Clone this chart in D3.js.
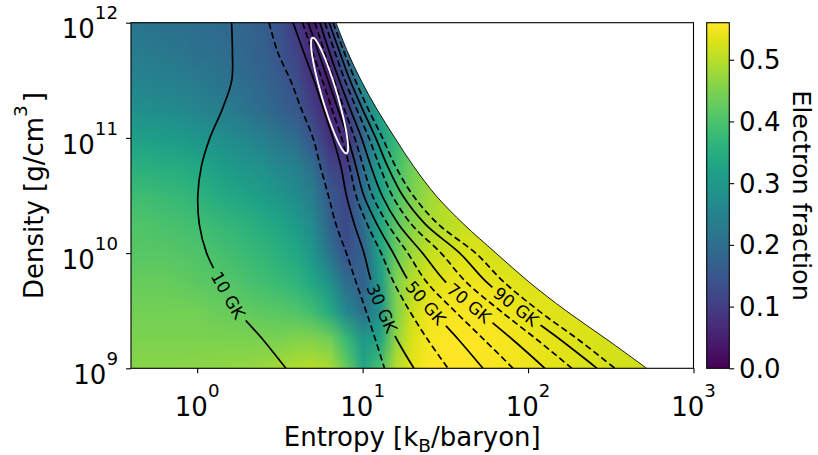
<!DOCTYPE html>
<html>
<head>
<meta charset="utf-8">
<script src="https://cdn.jsdelivr.net/npm/d3@7"></script>
<style>
  html, body { margin: 0; padding: 0; background: #fff; }
  svg { display: block; font-family: "DejaVu Sans", sans-serif; }
</style>
</head>
<body>
<svg id="chart" width="818" height="455"></svg>
<script>
// ---------------- data ----------------
// grid of the electron-fraction field: log10 entropy (columns) x log10 density (rows)
const logEntropyCols = [-0.4, -0.3, -0.2, -0.1, 0.0, 0.1, 0.2, 0.3, 0.4, 0.5, 0.6, 0.7, 0.8, 0.9, 1.0,
  1.1, 1.2, 1.3, 1.4, 1.5, 1.6, 1.7, 1.8, 1.9, 2.0, 2.1, 2.2, 2.3, 2.4, 2.5, 2.6, 2.7, 2.8];
const logDensityRows = [12, 11.75, 11.5, 11.25, 11, 10.75, 10.5, 10.25, 10, 9.75, 9.5, 9.25, 9];

// electron fraction Ye on the grid (one row per density, starting at 1e12)
const yeRows = [
  [0.22, 0.215, 0.21, 0.205, 0.2, 0.195, 0.19, 0.18, 0.165, 0.14, 0.09, 0.045, 0.13, 0.25],
  [0.235, 0.23, 0.225, 0.22, 0.21, 0.205, 0.195, 0.185, 0.17, 0.15, 0.11, 0.06, 0.07, 0.2, 0.3],
  [0.255, 0.25, 0.245, 0.24, 0.23, 0.22, 0.21, 0.195, 0.18, 0.16, 0.13, 0.075, 0.045, 0.13, 0.29, 0.35],
  [0.28, 0.275, 0.27, 0.265, 0.255, 0.245, 0.23, 0.215, 0.195, 0.175, 0.155, 0.105, 0.05, 0.09, 0.22, 0.33, 0.38],
  [0.315, 0.315, 0.31, 0.305, 0.295, 0.285, 0.27, 0.26, 0.24, 0.22, 0.195, 0.145, 0.075, 0.07, 0.18, 0.3, 0.38, 0.42],
  [0.355, 0.355, 0.35, 0.345, 0.335, 0.32, 0.305, 0.295, 0.28, 0.26, 0.245, 0.2, 0.12, 0.1, 0.2, 0.31, 0.39, 0.44, 0.47],
  [0.385, 0.385, 0.38, 0.375, 0.365, 0.35, 0.335, 0.325, 0.31, 0.295, 0.27, 0.235, 0.155, 0.12, 0.2, 0.31, 0.4, 0.45, 0.48, 0.5],
  [0.405, 0.405, 0.4, 0.395, 0.39, 0.38, 0.37, 0.36, 0.345, 0.33, 0.305, 0.265, 0.175, 0.12, 0.2, 0.33, 0.42, 0.46, 0.49, 0.5, 0.51, 0.52],
  [0.415, 0.415, 0.415, 0.41, 0.405, 0.4, 0.39, 0.38, 0.37, 0.355, 0.335, 0.295, 0.215, 0.14, 0.17, 0.32, 0.43, 0.48, 0.51, 0.52, 0.53, 0.53, 0.52, 0.52],
  [0.43, 0.43, 0.43, 0.425, 0.42, 0.415, 0.41, 0.4, 0.39, 0.38, 0.365, 0.335, 0.28, 0.2, 0.17, 0.3, 0.45, 0.5, 0.53, 0.54, 0.545, 0.545, 0.54, 0.535, 0.53, 0.53],
  [0.44, 0.44, 0.44, 0.44, 0.44, 0.435, 0.43, 0.425, 0.42, 0.415, 0.405, 0.385, 0.34, 0.26, 0.2, 0.28, 0.45, 0.52, 0.545, 0.55, 0.555, 0.555, 0.55, 0.545, 0.54, 0.535, 0.53, 0.53],
  [0.45, 0.45, 0.45, 0.45, 0.45, 0.45, 0.45, 0.45, 0.45, 0.45, 0.455, 0.455, 0.44, 0.38, 0.3, 0.33, 0.47, 0.53, 0.555, 0.56, 0.56, 0.56, 0.555, 0.55, 0.545, 0.54, 0.535, 0.53, 0.525, 0.52, 0.52],
  [0.46, 0.46, 0.46, 0.46, 0.465, 0.465, 0.47, 0.47, 0.475, 0.485, 0.495, 0.5, 0.49, 0.43, 0.33, 0.4, 0.5, 0.54, 0.56, 0.56, 0.56, 0.56, 0.555, 0.55, 0.545, 0.54, 0.535, 0.53, 0.53, 0.525, 0.52, 0.52, 0.52]
];

// upper edge of the tabulated region: log10 entropy at each density row
const boundaryLogS = [0.839, 0.908, 0.990, 1.086, 1.195, 1.310, 1.443, 1.612, 1.806, 2.005, 2.229, 2.477, 2.717];

// isotherms (GK): log10 entropy at each density row
const T10 = [0.208, 0.213, 0.209, 0.152, 0.077, 0.025, 0.004, 0.013, 0.057, 0.143, 0.246, 0.397, 0.536];
const T20 = [0.435, 0.485, 0.564, 0.630, 0.700, 0.745, 0.793, 0.839, 0.902, 0.960, 1.020, 1.077, 1.132];
const T30 = [0.580, 0.642, 0.706, 0.763, 0.820, 0.869, 0.902, 0.950, 1.008, 1.053, 1.123, 1.207, 1.310];
const T40 = [0.637, 0.696, 0.757, 0.814, 0.873, 0.921, 0.960, 1.028, 1.112, 1.187, 1.283, 1.393, 1.516];
const T50 = [0.671, 0.731, 0.791, 0.851, 0.911, 0.960, 1.007, 1.087, 1.185, 1.282, 1.421, 1.579, 1.727];
const T60 = [0.712, 0.768, 0.828, 0.889, 0.952, 1.004, 1.059, 1.152, 1.273, 1.386, 1.554, 1.733, 1.909];
const T70 = [0.742, 0.798, 0.859, 0.925, 0.993, 1.051, 1.117, 1.217, 1.362, 1.501, 1.698, 1.906, 2.102];
const T80 = [0.772, 0.831, 0.893, 0.964, 1.038, 1.104, 1.179, 1.295, 1.474, 1.625, 1.831, 2.053, 2.265];
const T90 = [0.798, 0.860, 0.924, 0.999, 1.079, 1.152, 1.242, 1.380, 1.587, 1.748, 1.958, 2.194, 2.417];
const T100 = [0.822, 0.887, 0.956, 1.034, 1.120, 1.200, 1.305, 1.458, 1.683, 1.853, 2.063, 2.303, 2.525];

const isotherms = [
  { T: 10, logS: T10 }, { T: 20, logS: T20 }, { T: 30, logS: T30 }, { T: 40, logS: T40 },
  { T: 50, logS: T50 }, { T: 60, logS: T60 }, { T: 70, logS: T70 }, { T: 80, logS: T80 },
  { T: 90, logS: T90 }, { T: 100, logS: T100 }
];
// density (log10) at which each labelled isotherm carries its label
const labelLogDensity = { 10: 9.636, 30: 9.523, 50: 9.567, 70: 9.567, 90: 9.535 };

// 1-sigma region in (log10 entropy, log10 density)
const ellipseCenter = [0.800, 11.368];
const ellipseAxisA = [-0.1028, 0.5017];
const ellipseAxisB = [0.0447, 0.0188];

const xTickExps = [0, 1, 2, 3];
const yTickExps = [9, 10, 11, 12];
const cbarTicks = [0, 0.1, 0.2, 0.3, 0.4, 0.5];
const yeMax = 0.56;

// ---------------- layout ----------------
const plot = { left: 131, right: 693.5, top: 22.7, bottom: 368.3 };
const cbar = { left: 706.7, right: 729.3 };
const svg = d3.select("#chart");
const defs = svg.append("defs");

const x = d3.scaleLog().domain([Math.pow(10, -0.4), 1000]).range([plot.left, plot.right]);
const y = d3.scaleLog().domain([1e9, 1e12]).range([plot.bottom, plot.top]);
const color = d3.scaleSequential(d3.interpolateViridis).domain([0, yeMax]);
const sx = ls => x(Math.pow(10, ls));
const sy = lr => y(Math.pow(10, lr));

// clip: plot area below the tabulated boundary
const boundaryPts = boundaryLogS.map((ls, i) => [sx(ls), sy(logDensityRows[i])]);
const boundaryLine = d3.line().curve(d3.curveCatmullRom.alpha(0.5));
const regionPath = boundaryLine(boundaryPts) +
  `L${plot.left},${plot.bottom}L${plot.left},${plot.top}Z`;
defs.append("clipPath").attr("id", "region").append("path").attr("d", regionPath);

// ---------------- field image ----------------
const nCols = logEntropyCols.length, nRows = logDensityRows.length;
const small = document.createElement("canvas");
small.width = nCols; small.height = nRows;
const sctx = small.getContext("2d");
const imgData = sctx.createImageData(nCols, nRows);
yeRows.forEach((row, j) => {
  for (let i = 0; i < nCols; i++) {
    const c = d3.rgb(color(row[Math.min(i, row.length - 1)]));
    const k = 4 * (j * nCols + i);
    imgData.data[k] = c.r; imgData.data[k + 1] = c.g; imgData.data[k + 2] = c.b; imgData.data[k + 3] = 255;
  }
});
sctx.putImageData(imgData, 0, 0);

const ix0 = sx(logEntropyCols[0] - 0.05), ix1 = sx(logEntropyCols[nCols - 1] + 0.05);
const iy0 = sy(logDensityRows[0] + 0.125), iy1 = sy(logDensityRows[nRows - 1] - 0.125);
const big = document.createElement("canvas");
big.width = Math.round(ix1 - ix0); big.height = Math.round(iy1 - iy0);
const bctx = big.getContext("2d");
bctx.imageSmoothingEnabled = true;
bctx.imageSmoothingQuality = "low";
bctx.drawImage(small, 0, 0, big.width, big.height);

svg.append("image")
  .attr("href", big.toDataURL())
  .attr("x", ix0).attr("y", iy0)
  .attr("width", ix1 - ix0).attr("height", iy1 - iy0)
  .attr("preserveAspectRatio", "none")
  .attr("clip-path", "url(#region)");

// ---------------- isotherms ----------------
const contourLine = d3.line().curve(d3.curveCatmullRom.alpha(0.5));
const gClip = svg.append("g").attr("clip-path", "url(#region)");
const mask = defs.append("mask").attr("id", "labelGaps").attr("maskUnits", "userSpaceOnUse")
  .attr("x", 0).attr("y", 0).attr("width", 818).attr("height", 455);
mask.append("rect").attr("width", 818).attr("height", 455).attr("fill", "#fff");
const gLines = gClip.append("g").attr("mask", "url(#labelGaps)");
const gLabels = svg.append("g");

isotherms.forEach(iso => {
  const pts = iso.logS.map((ls, i) => [sx(ls), sy(logDensityRows[i])]);
  const solid = (iso.T / 10) % 2 === 1;
  const path = gLines.append("path")
    .attr("d", contourLine(pts))
    .attr("fill", "none")
    .attr("stroke", "#000")
    .attr("stroke-width", 1.7)
    .attr("stroke-dasharray", solid ? null : "6.5,3.5");

  const ld = labelLogDensity[iso.T];
  if (ld === undefined) return;
  const node = path.node();
  const L = node.getTotalLength();
  const ty = sy(ld);
  let best = 0, bestD = Infinity;
  for (let s = 0; s <= L; s += 0.5) {
    const p = node.getPointAtLength(s);
    const d = Math.abs(p.y - ty);
    if (d < bestD) { bestD = d; best = s; }
  }
  const p = node.getPointAtLength(best);
  const pa = node.getPointAtLength(Math.max(0, best - 6));
  const pb = node.getPointAtLength(Math.min(L, best + 6));
  let ang = Math.atan2(pb.y - pa.y, pb.x - pa.x) * 180 / Math.PI;
  if (ang > 90) ang -= 180;
  if (ang < -90) ang += 180;
  const t = gLabels.append("text")
    .attr("transform", `translate(${p.x},${p.y}) rotate(${ang})`)
    .attr("text-anchor", "middle")
    .attr("dominant-baseline", "central")
    .style("font-size", "17px")
    .text(`${iso.T} GK`);
  const w = t.node().getComputedTextLength();
  mask.append("rect")
    .attr("x", -w / 2 - 5).attr("y", -10).attr("width", w + 10).attr("height", 20)
    .attr("transform", `translate(${p.x},${p.y}) rotate(${ang})`)
    .attr("fill", "#000");
});

// ---------------- uncertainty ellipse ----------------
const ellPts = d3.range(0, 361, 3).map(deg => {
  const a = deg * Math.PI / 180;
  const ls = ellipseCenter[0] + ellipseAxisA[0] * Math.cos(a) + ellipseAxisB[0] * Math.sin(a);
  const lr = ellipseCenter[1] + ellipseAxisA[1] * Math.cos(a) + ellipseAxisB[1] * Math.sin(a);
  return [sx(ls), sy(lr)];
});
svg.append("path")
  .attr("d", d3.line().curve(d3.curveLinearClosed)(ellPts))
  .attr("fill", "none").attr("stroke", "#fff").attr("stroke-width", 1.8);

// boundary edge
svg.append("path")
  .attr("d", boundaryLine(boundaryPts))
  .attr("fill", "none").attr("stroke", "#000").attr("stroke-width", 0.9);

// ---------------- axes ----------------
svg.append("rect")
  .attr("x", plot.left).attr("y", plot.top)
  .attr("width", plot.right - plot.left).attr("height", plot.bottom - plot.top)
  .attr("fill", "none").attr("stroke", "#000").attr("stroke-width", 1.1);

const gx = svg.append("g").attr("transform", `translate(0,${plot.bottom})`)
  .call(d3.axisBottom(x).tickValues(xTickExps.map(e => Math.pow(10, e))).tickSize(4.9).tickSizeOuter(0).tickFormat(() => ""));
gx.select(".domain").remove();
gx.selectAll(".tick line").attr("stroke", "#000").attr("stroke-width", 1.1);

const gy = svg.append("g").attr("transform", `translate(${plot.left},0)`)
  .call(d3.axisLeft(y).tickValues(yTickExps.map(e => Math.pow(10, e))).tickSize(4.9).tickSizeOuter(0).tickFormat(() => ""));
gy.select(".domain").remove();
gy.selectAll(".tick line").attr("stroke", "#000").attr("stroke-width", 1.1);

const tickFont = 26, supFont = 18.2;
xTickExps.forEach(e => {
  const t = svg.append("text")
    .attr("x", x(Math.pow(10, e))).attr("y", 415.5)
    .attr("text-anchor", "middle").style("font-size", tickFont + "px");
  t.append("tspan").text("10");
  t.append("tspan").attr("dy", -19).style("font-size", supFont + "px").text(e);
});
yTickExps.forEach(e => {
  const t = svg.append("text")
    .attr("x", 118).attr("y", y(Math.pow(10, e)) + 15.6)
    .attr("text-anchor", "end").style("font-size", tickFont + "px");
  t.append("tspan").text("10");
  t.append("tspan").attr("dy", -19).style("font-size", supFont + "px").text(e);
});

// axis titles
const titleFont = 26, titleSub = 18.5;
const xt = svg.append("text").attr("x", (plot.left + plot.right) / 2).attr("y", 446)
  .attr("text-anchor", "middle").style("font-size", titleFont + "px");
xt.append("tspan").text("Entropy [k");
xt.append("tspan").attr("dy", 6).style("font-size", titleSub + "px").text("B");
xt.append("tspan").attr("dy", -6).text("/baryon]");

const yt = svg.append("text")
  .attr("transform", `translate(43,${(plot.top + plot.bottom) / 2}) rotate(-90)`)
  .attr("text-anchor", "middle").style("font-size", titleFont + "px");
yt.append("tspan").text("Density [g/cm");
yt.append("tspan").attr("dy", -16).style("font-size", titleSub + "px").text("3");
yt.append("tspan").attr("dy", 16).attr("dx", 3).text("]");

// ---------------- colorbar ----------------
const cbY = d3.scaleLinear().domain([0, yeMax]).range([plot.bottom, plot.top]);
const grad = defs.append("linearGradient").attr("id", "viridisBar")
  .attr("x1", 0).attr("y1", 1).attr("x2", 0).attr("y2", 0);
d3.range(0, 1.0001, 0.05).forEach(f => {
  grad.append("stop").attr("offset", f).attr("stop-color", color(f * yeMax));
});
svg.append("rect")
  .attr("x", cbar.left).attr("y", plot.top)
  .attr("width", cbar.right - cbar.left).attr("height", plot.bottom - plot.top)
  .attr("fill", "url(#viridisBar)").attr("stroke", "#000").attr("stroke-width", 1.1);

const gc = svg.append("g").attr("transform", `translate(${cbar.right},0)`)
  .call(d3.axisRight(cbY).tickValues(cbarTicks).tickSize(4.9).tickSizeOuter(0).tickFormat(d3.format(".1f")));
gc.select(".domain").remove();
gc.selectAll(".tick line").attr("stroke", "#000").attr("stroke-width", 1.1);
gc.selectAll(".tick text")
  .attr("x", 9.8).attr("dy", "0.35em")
  .style("font-size", tickFont + "px").style("font-family", "DejaVu Sans, sans-serif").attr("fill", "#000");

svg.append("text")
  .attr("transform", `translate(793,${(plot.top + plot.bottom) / 2}) rotate(90)`)
  .attr("text-anchor", "middle").style("font-size", "25.5px")
  .text("Electron fraction");
</script>
</body>
</html>
